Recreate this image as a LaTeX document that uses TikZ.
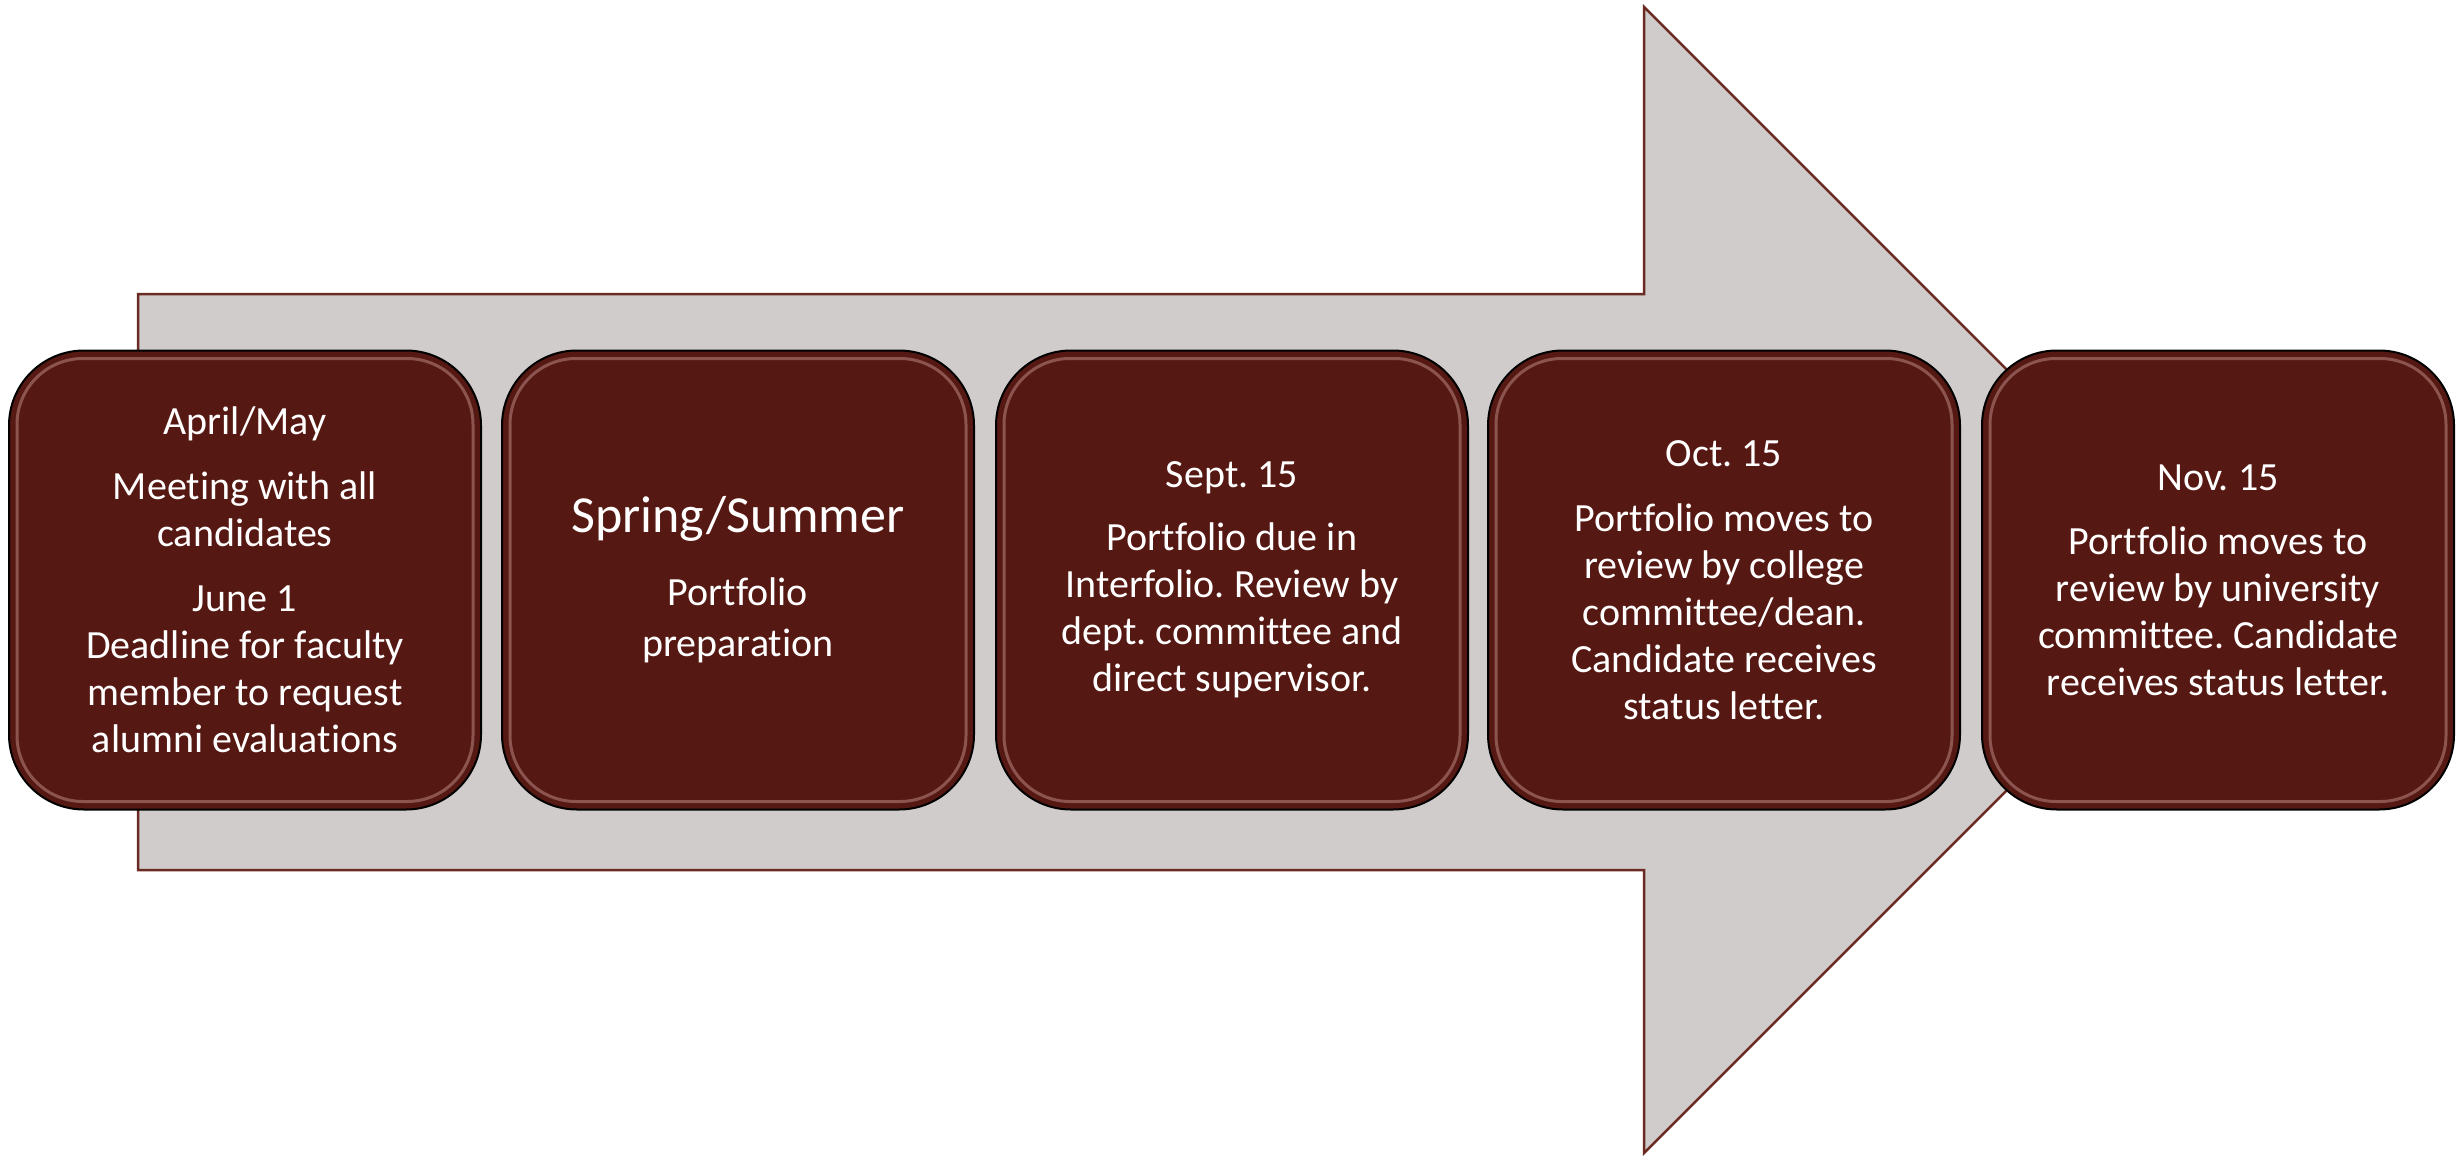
\documentclass[tikz,border=0pt]{standalone}
\usepackage{fontspec}
\setmainfont{Carlito}[Ligatures=NoCommon]
\frenchspacing
\definecolor{boxred}{HTML}{561812}
\definecolor{arrowfill}{HTML}{D0CCCB}
\definecolor{arrowline}{HTML}{6B2A22}
\definecolor{glossline}{HTML}{C0908A}
\tikzset{
  stage/.style={rounded corners=75pt, fill=boxred, draw=black, line width=2pt,
    minimum width=472pt, minimum height=459pt, text=white, align=center,
    inner sep=0pt, font=\fontsize{40}{47}\selectfont},
  stagewide/.style={stage, font=\fontsize{40}{51}\selectfont},
  gloss/.style={rounded corners=66pt, draw=glossline, line width=3pt, opacity=0.5},
  bigarrow/.style={fill=arrowfill, draw=arrowline, line width=2.5pt, line join=miter}
}
\begin{document}
\begin{tikzpicture}[x=1pt,y=-1pt]
\useasboundingbox (0,0) rectangle (2463,1156);
% big arrow
\draw[bigarrow] (138,294) -- (1644,294) -- (1644,7) -- (2217,580) -- (1644,1153)
  -- (1644,870) -- (138,870) -- cycle;
% stages
\node[stage] (s1) at (245,580) {April/May\\[18pt]Meeting with all\\candidates\\[18pt]June 1\\Deadline for faculty\\member to request\\alumni evaluations};
\node[stagewide] (s2) at (738,580) {{\fontsize{52}{60}\selectfont Spring/Summer}\\[22pt]Portfolio\\preparation};
\node[stage] (s3) at (1232,580) {Sept. 15\\[16pt]Portfolio due in\\Interfolio. Review by\\dept. committee and\\direct supervisor.};
\node[stage] (s4) at (1724,580) {Oct. 15\\[18pt]Portfolio moves to\\review by college\\committee/dean.\\Candidate receives\\status letter.};
\node[stage] (s5) at (2218,580) {Nov. 15\\[17pt]Portfolio moves to\\review by university\\committee. Candidate\\receives status letter.};
% gloss rims
\foreach \n in {s1,s2,s3,s4,s5}{
  \draw[gloss] ([shift={(9pt,9pt)}]\n.south west) rectangle ([shift={(-9pt,-9pt)}]\n.north east);
}
\end{tikzpicture}
\end{document}
